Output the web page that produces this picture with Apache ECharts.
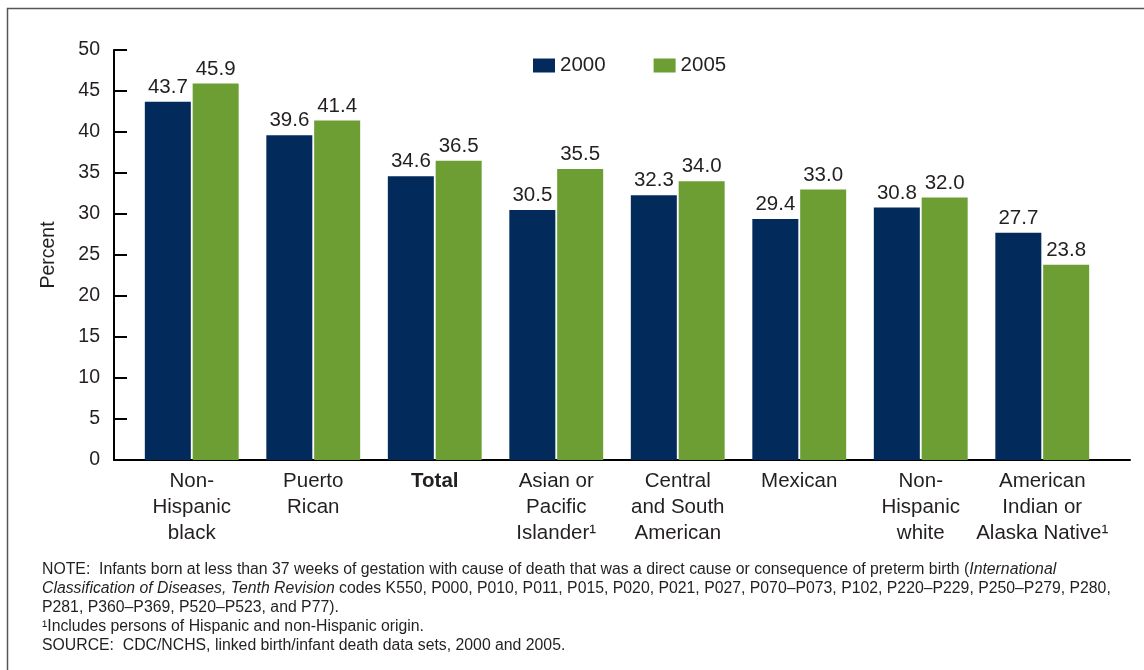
<!DOCTYPE html>
<html>
<head>
<meta charset="utf-8">
<script src="https://cdn.jsdelivr.net/npm/echarts@6/dist/echarts.min.js"></script>
<style>
html,body{margin:0;padding:0;background:#fff;}
#chart{width:1144px;height:670px;}
</style>
</head>
<body>
<div id="chart"></div>
<script>
const categories = [
  'Non-\nHispanic\nblack',
  'Puerto\nRican',
  'Total',
  'Asian or\nPacific\nIslander¹',
  'Central\nand South\nAmerican',
  'Mexican',
  'Non-\nHispanic\nwhite',
  'American\nIndian or\nAlaska Native¹'
];
const values2000 = [43.7, 39.6, 34.6, 30.5, 32.3, 29.4, 30.8, 27.7];
const values2005 = [45.9, 41.4, 36.5, 35.5, 34.0, 33.0, 32.0, 23.8];
const seriesNames = ['2000', '2005'];
const yMin = 0, yMax = 50, yStep = 5;

const FONT = '"Liberation Sans", Arial, Helvetica, sans-serif';
const NAVY = '#022b5c';
const GREEN = '#6c9e33';
const TXT = '#231f20';

const chart = echarts.init(document.getElementById('chart'), null, {renderer: 'canvas'});

const labelStyle = {
  show: true, position: 'top', distance: 4,
  fontFamily: FONT, fontSize: 20.5, color: TXT,
  formatter: p => p.value.toFixed(1)
};

chart.setOption({
  animation: false,
  backgroundColor: '#fff',
  grid: [
    {left: 131, right: 41, top: 50, bottom: 210},
    {left: 114, right: 14, top: 50, bottom: 210}
  ],
  legend: {
    data: seriesNames,
    left: 528, top: 50,
    itemWidth: 22, itemHeight: 14, itemGap: 48,
    icon: 'rect',
    textStyle: {fontFamily: FONT, fontSize: 20.5, color: TXT}
  },
  xAxis: [
    {
      type: 'category', gridIndex: 0, data: categories,
      axisLine: {show: false}, axisTick: {show: false},
      axisLabel: {
        interval: 0, margin: 8,
        fontFamily: FONT, fontSize: 20.5, color: TXT, lineHeight: 26,
        formatter: v => v === 'Total' ? '{b|Total}' : v,
        rich: {b: {fontFamily: FONT, fontSize: 20.5, fontWeight: 'bold', color: TXT, lineHeight: 26}}
      }
    },
    {
      type: 'value', gridIndex: 1, min: 0, max: 1,
      axisLine: {show: true, lineStyle: {color: '#000', width: 2}},
      axisTick: {show: false}, axisLabel: {show: false}, splitLine: {show: false}
    }
  ],
  yAxis: [
    {type: 'value', gridIndex: 0, min: yMin, max: yMax, interval: yStep, show: false},
    {
      type: 'value', gridIndex: 1, min: yMin, max: yMax, interval: yStep,
      name: 'Percent', nameLocation: 'middle', nameGap: 55, nameRotate: 90,
      nameTextStyle: {fontFamily: FONT, fontSize: 19.5, color: TXT},
      axisLine: {show: true, lineStyle: {color: '#000', width: 2}},
      axisTick: {show: true, inside: true, length: 13, lineStyle: {color: '#000', width: 2}},
      axisLabel: {fontFamily: FONT, fontSize: 19.5, color: TXT, margin: 14},
      splitLine: {show: false}
    }
  ],
  series: [
    {
      name: seriesNames[0], type: 'bar', xAxisIndex: 0, yAxisIndex: 0,
      data: values2000, barWidth: 46, barGap: '4%',
      itemStyle: {color: NAVY}, label: labelStyle
    },
    {
      name: seriesNames[1], type: 'bar', xAxisIndex: 0, yAxisIndex: 0,
      data: values2005, barWidth: 46, barGap: '4%',
      itemStyle: {color: GREEN}, label: labelStyle
    }
  ],
  graphic: [
    {
      type: 'polyline', silent: true,
      shape: {points: [[7.5, 680], [7.5, 8.5], [1150, 8.5]]},
      style: {stroke: '#555', lineWidth: 1.5, fill: null}
    },
    {
      type: 'text', left: 42, top: 560, silent: true,
      style: {
        fontFamily: FONT,
        fontSize: 15.8, lineHeight: 19, fill: TXT,
        text: 'NOTE:  Infants born at less than 37 weeks of gestation with cause of death that was a direct cause or consequence of preterm birth ({i|International}\n' +
              '{i|Classification of Diseases, Tenth Revision} codes K550, P000, P010, P011, P015, P020, P021, P027, P070–P073, P102, P220–P229, P250–P279, P280,\n' +
              'P281, P360–P369, P520–P523, and P77).\n' +
              '¹Includes persons of Hispanic and non-Hispanic origin.\n' +
              'SOURCE:  CDC/NCHS, linked birth/infant death data sets, 2000 and 2005.',
        rich: {
          i: {fontStyle: 'italic', fontFamily: FONT, fontSize: 15.8, lineHeight: 19, fill: TXT}
        }
      }
    }
  ]
});
</script>
</body>
</html>
